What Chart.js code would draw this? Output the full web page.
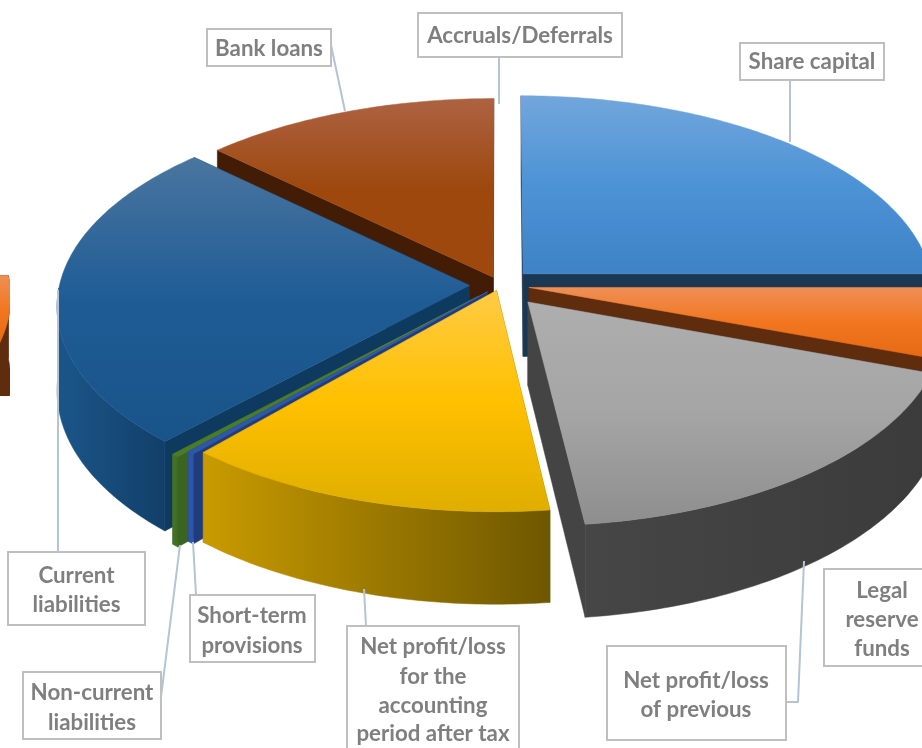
<!DOCTYPE html>
<html>
<head>
<meta charset="utf-8">
<style>html,body{margin:0;padding:0;background:#fff;overflow:hidden}canvas{display:block}</style>
<script src="https://cdn.jsdelivr.net/npm/chart.js@4"></script>
</head>
<body>
<canvas id="c" width="922" height="748"></canvas>
<script>
// Data (start at 12 o'clock, clockwise)
const categories = ["Share capital","Legal reserve funds","Net profit/loss of previous","Net profit/loss for the accounting period after tax","Short-term provisions","Non-current liabilities","Current liabilities","Bank loans","Accruals/Deferrals"];
const shares = [25.0,5.56,17.56,13.33,0.25,0.27,25.17,12.86,0];
// Explosion of each slice, px in the pie's own plane
const explode = [28,25,38,10,16,27,26,15,0];
// Styles
const topLight = ["#72A6DC","#EF8F55","#AEAEAE","#FFCB45","#3E66B8","#5C8C38","#4A759F","#AD6242","#999999"];
const topBase  = ["#4C93D6","#F1761F","#A5A5A5","#FFC000","#2F57A8","#4A7C28","#1F5C96","#9E480E","#999999"];
const topDark  = ["#3F82C6","#E66A14","#8E8E8E","#DFAE00","#2F57A8","#4A7C28","#185488","#9E480E","#999999"];
const wallFrom = ["#1A3753","#5F2C0D","#464646","#C99B00","#2D55A8","#45752A","#1B5689","#6E3209","#666666"];
const wallTo   = ["#1A3753","#5F2C0D","#3B3B3B","#6E5700","#2D55A8","#3F6B20","#123F69","#4A2006","#666666"];
const sideFill = ["#1A3753","#5F2C0D","#444444","#7F6000","#1F3C7C","#3A6420","#0F3A5F","#431C05","#555555"];
// Callout labels: lines of text, box and leader
const calloutLines = [["Share capital"],["Accruals/Deferrals"],["Bank loans"],["Current","liabilities"],["Short-term","provisions"],["Non-current","liabilities"],["Net profit/loss","for the","accounting","period after tax"],["Net profit/loss","of previous"],["Legal","reserve","funds"]];
const calloutBoxes = [[740,43,144,37],[418,13,204,44],[207,29,124,37],[8,552,137,73],[190,595,125,67],[23,672,138,67],[347,626,172,130],[607,646,179,94],[824,569,110,97]];
const calloutCenters = [812,520,269,76.5,252,92,433,696,882];
const calloutY = [[62],[36],[49],[576,605],[616,646],[693,723],[647,677,706,734],[681,710],[591,620,649]];
const leaders = [[[790,80],[790,142]],[[499,57],[499,104]],[[331,45],[345,111]],[[58,552],[58,290]],[[196,595],[193,542]],[[161,697],[180,545]],[[366,626],[364,589]],[[786,702],[798,702],[804,561]]];

// Projection settings of the tilted pie
const CX=500, CY=285, RX=410, RY=198, PERSP=0.1, DEPTH=83;
function project(el,a,r,z){
  const R=el.outerRadius, mid=(el.startAngle+el.endAngle)/2, off=el.options.offset||0;
  const u=(off*Math.cos(mid)+r*Math.cos(a))/R, v=(off*Math.sin(mid)+r*Math.sin(a))/R;
  const k=1/(1-PERSP*v);
  return [CX+RX*u*k, CY+RY*v*k+z*DEPTH*k];
}
function poly(ctx,pts,fill){
  ctx.beginPath();pts.forEach((p,i)=>i?ctx.lineTo(p[0],p[1]):ctx.moveTo(p[0],p[1]));ctx.closePath();
  ctx.fillStyle=fill;ctx.strokeStyle=fill;ctx.lineWidth=0.5;ctx.fill();ctx.stroke();
}
function drawSlice(ctx,el,i){
  const a0=el.startAngle,a1=el.endAngle,R=el.outerRadius;
  const n=Math.max(2,Math.ceil((a1-a0)/0.015));
  const top=[],wallTop=[],wallBot=[];
  for(let j=0;j<=n;j++){
    const a=a0+(a1-a0)*j/n;
    top.push(project(el,a,R,0));
    if(Math.sin(a)>=0){wallTop.push(project(el,a,R,0));wallBot.push(project(el,a,R,1));}
  }
  const c0=project(el,a0,0,0),c1=project(el,a0,0,1);
  // radial faces
  poly(ctx,[c0,top[0],project(el,a0,R,1),c1],sideFill[i]);
  poly(ctx,[c0,top[n],project(el,a1,R,1),c1],sideFill[i]);
  // outer wall (only the part that faces the viewer)
  if(wallTop.length>1){
    const xs=wallTop.map(p=>p[0]);
    const wg=ctx.createLinearGradient(Math.min(...xs),0,Math.max(...xs)+0.01,0);
    wg.addColorStop(0,wallFrom[i]);wg.addColorStop(1,wallTo[i]);
    poly(ctx,wallTop.concat(wallBot.slice().reverse()),wg);
  }
  // top surface
  const pts=[c0].concat(top),ys=pts.map(p=>p[1]);
  const tg=ctx.createLinearGradient(0,Math.min(...ys),0,Math.max(...ys)+0.01);
  tg.addColorStop(0,topLight[i]);tg.addColorStop(0.5,topBase[i]);tg.addColorStop(1,topDark[i]);
  poly(ctx,pts,tg);
}
const pie3d={
  id:'pie3d',
  beforeDatasetDraw(){return false;},
  afterDatasetsDraw(chart){
    const ctx=chart.ctx, arcs=chart.getDatasetMeta(0).data;
    const order=arcs.map((el,i)=>({el,i})).filter(o=>o.el.endAngle-o.el.startAngle>1e-6)
      .sort((a,b)=>Math.sin((a.el.startAngle+a.el.endAngle)/2)-Math.sin((b.el.startAngle+b.el.endAngle)/2));
    ctx.save();
    order.forEach(o=>drawSlice(ctx,o.el,o.i));
    // the reference's slice that runs off the right edge re-enters at the left
    ctx.save();ctx.beginPath();ctx.rect(0,0,10,396);ctx.clip();ctx.translate(-931,-12);
    drawSlice(ctx,arcs[1],1);ctx.restore();
    // leaders
    ctx.strokeStyle="#B4C3D6";ctx.lineWidth=2;
    leaders.forEach(l=>{ctx.beginPath();l.forEach((p,j)=>j?ctx.lineTo(p[0],p[1]):ctx.moveTo(p[0],p[1]));ctx.stroke();});
    // boxes & text
    ctx.textAlign="center";ctx.textBaseline="middle";ctx.font='bold 22.3px Lato';
    calloutLines.forEach((lines,i)=>{
      const b=calloutBoxes[i];
      ctx.fillStyle="#fff";ctx.fillRect(b[0],b[1],b[2],b[3]);
      ctx.strokeStyle="#BFBFBF";ctx.lineWidth=2;ctx.strokeRect(b[0],b[1],b[2],b[3]);
      ctx.fillStyle="#7F7F7F";
      lines.forEach((t,j)=>ctx.fillText(t,calloutCenters[i],calloutY[i][j]));
    });
    ctx.restore();
  }
};
new Chart(document.getElementById('c'),{
  type:'pie',
  data:{labels:categories,datasets:[{data:shares,offset:explode,backgroundColor:topBase,borderWidth:0}]},
  options:{responsive:false,animation:false,radius:350,
    layout:{padding:0},
    plugins:{legend:{display:false},tooltip:{enabled:false},title:{display:false}}},
  plugins:[pie3d]
});
</script>
</body>
</html>
